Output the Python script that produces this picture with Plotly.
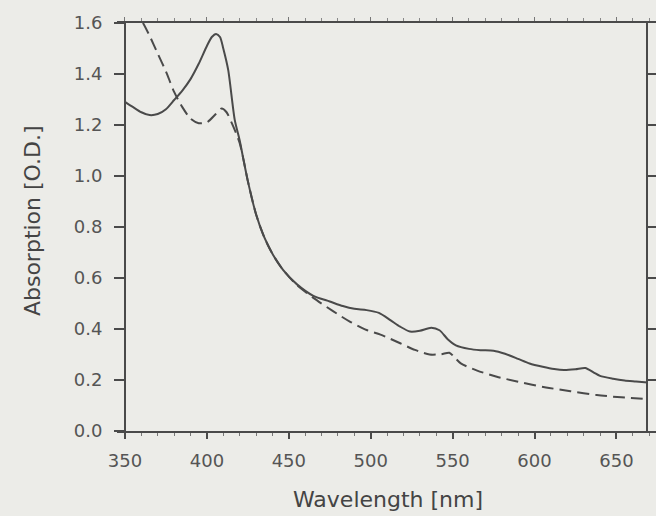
import plotly.graph_objects as go

# ---- data ----
wl_solid = [350, 355, 360, 365, 370, 375, 380, 385, 390, 395, 400, 403, 405.6, 408, 410,
            413, 417, 420, 422, 425, 430, 435, 440, 446.6, 455, 465, 475, 483, 490,
            497.5, 505, 512, 518, 524, 530, 537, 542, 547, 552, 560, 567, 575, 582,
            590, 597, 605, 612, 618, 625, 631, 636, 640, 648, 655, 662, 669]
od_solid = [1.291, 1.270, 1.250, 1.239, 1.243, 1.262, 1.298, 1.335, 1.380, 1.440, 1.510,
            1.545, 1.557, 1.545, 1.500, 1.416, 1.220, 1.140, 1.075, 0.980, 0.850, 0.760,
            0.695, 0.631, 0.575, 0.530, 0.508, 0.490, 0.479, 0.474, 0.463, 0.435, 0.409,
            0.390, 0.393, 0.405, 0.395, 0.360, 0.336, 0.322, 0.317, 0.315, 0.303, 0.283,
            0.265, 0.252, 0.243, 0.239, 0.242, 0.247, 0.230, 0.216, 0.205, 0.198, 0.194,
            0.190]

wl_dash = [355, 361, 365, 370, 375, 380, 385, 390, 395, 400, 405, 409, 412, 415, 418,
           420, 422, 425, 430, 435, 440, 446.6, 455, 465, 477, 487, 497.5, 506, 518,
           527, 536, 543, 548, 551, 555, 565, 577, 590, 607, 622, 638, 653, 669]
od_dash = [1.66, 1.60, 1.55, 1.48, 1.41, 1.33, 1.27, 1.225, 1.207, 1.210, 1.240, 1.265,
           1.250, 1.210, 1.165, 1.130, 1.075, 0.980, 0.850, 0.760, 0.695, 0.631, 0.572,
           0.522, 0.470, 0.430, 0.396, 0.378, 0.344, 0.318, 0.300, 0.301, 0.307, 0.290,
           0.265, 0.237, 0.213, 0.193, 0.171, 0.156, 0.141, 0.132, 0.125]

x_ticks = [350, 400, 450, 500, 550, 600, 650]
y_ticks = [0.0, 0.2, 0.4, 0.6, 0.8, 1.0, 1.2, 1.4, 1.6]
y_ticks_right = [0.2, 0.4, 0.6, 0.8, 1.0, 1.2, 1.4]
x_title = "Wavelength [nm]"
y_title = "Absorption [O.D.]"

BG = "#ecece8"
INK = "#4a4a4a"
TXT = "#555555"
FONT = "DejaVu Sans"
XR = [345.12, 674.17]
YR = [0, 1.6]

fig = go.Figure()
fig.add_trace(go.Scatter(x=wl_solid, y=od_solid, mode="lines",
                         line=dict(color=INK, width=2, shape="spline", smoothing=0.7),
                         showlegend=False, hoverinfo="skip"))
fig.add_trace(go.Scatter(x=wl_dash, y=od_dash, mode="lines",
                         line=dict(color=INK, width=2, dash="12px,6px",
                                   shape="spline", smoothing=0.7),
                         showlegend=False, hoverinfo="skip"))
# placeholder to activate the mirrored axes
fig.add_trace(go.Scatter(x=[wl_solid[0]], y=[od_solid[0]], xaxis="x2", yaxis="y2",
                         mode="markers", marker=dict(opacity=0), showlegend=False,
                         hoverinfo="skip"))

fig.update_layout(
    width=656, height=516,
    margin=dict(l=117, r=0, t=23, b=85),
    paper_bgcolor=BG, plot_bgcolor=BG,
    font=dict(family=FONT, color=TXT, size=18),
    xaxis=dict(range=XR, tickmode="array", tickvals=x_ticks,
               ticks="outside", ticklen=6, tickwidth=1.5, tickcolor=INK,
               showline=True, linewidth=2, linecolor=INK,
               showgrid=False, zeroline=False,
               ticklabelstandoff=6,
               tickfont=dict(family=FONT, size=18, color=TXT),
               minor=dict(dtick=10, tick0=350, ticks="outside", ticklen=3,
                          tickwidth=1, tickcolor="#777", showgrid=False)),
    xaxis2=dict(range=XR, overlaying="x", side="top", anchor="y2",
                tickmode="array", tickvals=x_ticks, showticklabels=False,
                ticks="outside", ticklen=4, tickwidth=1, tickcolor="#777",
                showline=True, linewidth=2, linecolor=INK,
                showgrid=False, zeroline=False,
                minor=dict(dtick=10, tick0=350, ticks="outside", ticklen=3,
                           tickwidth=1, tickcolor="#888", showgrid=False)),
    yaxis=dict(range=YR, tickmode="array", tickvals=y_ticks,
               tickformat=".1f", anchor="free", position=0.01484,
               ticks="outside", ticklen=10, tickwidth=1.5, tickcolor=INK,
               showline=True, linewidth=2, linecolor=INK,
               showgrid=False, zeroline=False, ticklabelstandoff=8,
               tickfont=dict(family=FONT, size=18, color=TXT)),
    yaxis2=dict(range=YR, overlaying="y", side="right", anchor="free",
                position=0.9833, tickmode="array", tickvals=y_ticks_right,
                showticklabels=False, ticks="outside", ticklen=9, tickwidth=1.5,
                tickcolor=INK, showline=True, linewidth=2, linecolor=INK,
                showgrid=False, zeroline=False),
    annotations=[
        dict(text=x_title, xref="paper", yref="paper", x=0.503, y=-0.169,
             xanchor="center", yanchor="middle", showarrow=False,
             font=dict(family=FONT, size=22, color="#444")),
        dict(text=y_title, xref="paper", yref="paper", x=-0.1577, y=0.517,
             xanchor="center", yanchor="middle", showarrow=False, textangle=-90,
             font=dict(family=FONT, size=22, color="#444")),
    ],
)

fig.write_html("out.html",
               config={"displayModeBar": False},
               post_script="document.body.style.margin='0';"
                           "document.body.style.background='#ecece8';")
